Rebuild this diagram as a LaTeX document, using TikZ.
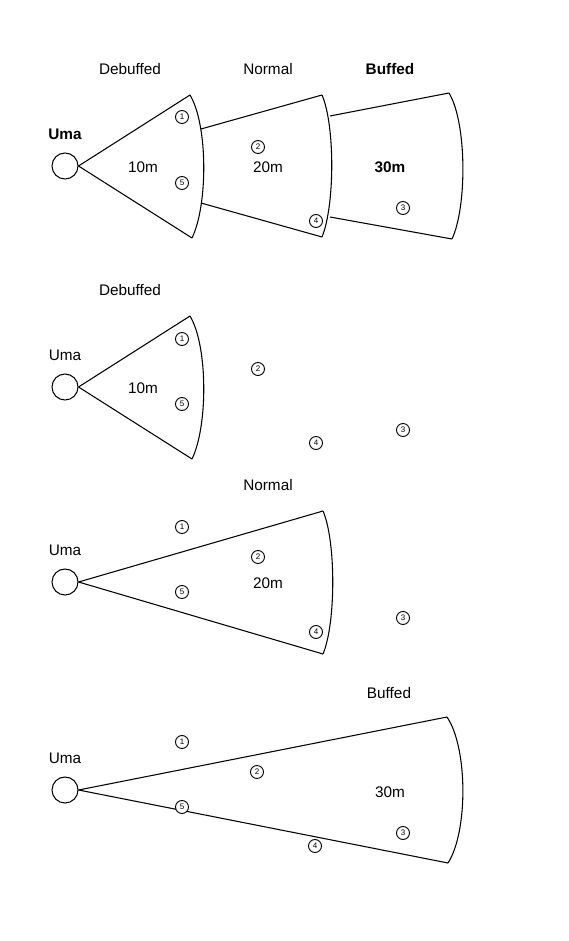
\documentclass[tikz,border=0pt]{standalone}
\usepackage{fontspec}
\setmainfont{Liberation Sans}
\begin{document}
\begin{tikzpicture}[x=0.75pt,y=-0.75pt,
  uma/.style={draw,circle,minimum size=19.5pt,inner sep=0pt,line width=0.8pt},
  mark num/.style={draw,circle,minimum size=9.75pt,inner sep=0pt,line width=0.7pt,font=\fontsize{6}{7}\selectfont},
  lbl/.style={font=\fontsize{11.5}{13}\selectfont},
  blbl/.style={font=\fontsize{11.5}{13}\selectfont\bfseries},
  edge/.style={line width=0.8pt}]
\useasboundingbox (0,0) rectangle (568,941);
% ---------- Panel 1 ----------
\node[uma] (u1) at (65,166) {};
\node[blbl] (un1) at (65,134) {Uma};
\node[lbl] (t1a) at (130,69) {Debuffed};
\node[lbl] (t1b) at (268,69) {Normal};
\node[blbl] (t1c) at (390,69) {Buffed};
\coordinate (d1t) at (190,95);
\coordinate (d1b) at (192,238);
\coordinate (n1s) at (201,129);
\coordinate (n1e) at (201,203);
\coordinate (n1t) at (322,95);
\coordinate (n1b) at (322,237);
\coordinate (b1s) at (330,116);
\coordinate (b1e) at (330,217);
\coordinate (b1t) at (449,93);
\coordinate (b1b) at (452,239);
\draw[edge] (u1.east) -- (d1t);
\draw[edge] (u1.east) -- (d1b);
\draw[edge] (d1t) .. controls (208,125) and (208,205) .. (d1b);
\draw[edge] (n1s) -- (n1t);
\draw[edge] (n1e) -- (n1b);
\draw[edge] (n1t) .. controls (335,125) and (335,205) .. (n1b);
\draw[edge] (b1s) -- (b1t);
\draw[edge] (b1e) -- (b1b);
\draw[edge] (b1t) .. controls (467,123) and (467,207) .. (b1b);
\node[lbl] (r1a) at (143,167) {10m};
\node[lbl] (r1b) at (268,167) {20m};
\node[blbl] (r1c) at (390,167) {30m};
\node[mark num] (m1a) at (182,117) {1};
\node[mark num] (m1e) at (182,183) {5};
\node[mark num] (m1b) at (258,147) {2};
\node[mark num] (m1d) at (316,221) {4};
\node[mark num] (m1c) at (403,208) {3};
% ---------- Panel 2 ----------
\node[uma] (u2) at (65,387) {};
\node[lbl] (un2) at (65,355) {Uma};
\node[lbl] (t2) at (130,290) {Debuffed};
\coordinate (d2t) at (190,316);
\coordinate (d2b) at (192,459);
\draw[edge] (u2.east) -- (d2t);
\draw[edge] (u2.east) -- (d2b);
\draw[edge] (d2t) .. controls (208,346) and (208,426) .. (d2b);
\node[lbl] (r2) at (143,388) {10m};
\node[mark num] (m2a) at (182,339) {1};
\node[mark num] (m2e) at (182,404) {5};
\node[mark num] (m2b) at (258,369) {2};
\node[mark num] (m2d) at (316,443) {4};
\node[mark num] (m2c) at (403,430) {3};
% ---------- Panel 3 ----------
\node[uma] (u3) at (65,582) {};
\node[lbl] (un3) at (65,550) {Uma};
\node[lbl] (t3) at (268,485) {Normal};
\coordinate (n3t) at (323,511);
\coordinate (n3b) at (323,654);
\draw[edge] (u3.east) -- (n3t);
\draw[edge] (u3.east) -- (n3b);
\draw[edge] (n3t) .. controls (336,541) and (336,623) .. (n3b);
\node[lbl] (r3) at (268,583) {20m};
\node[mark num] (m3a) at (182,527) {1};
\node[mark num] (m3b) at (258,557) {2};
\node[mark num] (m3e) at (182,592) {5};
\node[mark num] (m3d) at (316,632) {4};
\node[mark num] (m3c) at (403,618) {3};
% ---------- Panel 4 ----------
\node[uma] (u4) at (65,790) {};
\node[lbl] (un4) at (65,758) {Uma};
\node[lbl] (t4) at (389,693) {Buffed};
\coordinate (b4t) at (447,717);
\coordinate (b4b) at (448,863);
\draw[edge] (u4.east) -- (b4t);
\draw[edge] (u4.east) -- (b4b);
\draw[edge] (b4t) .. controls (468,748) and (468,832) .. (b4b);
\node[lbl] (r4) at (390,792) {30m};
\node[mark num] (m4a) at (182,742) {1};
\node[mark num] (m4b) at (257,772) {2};
\node[mark num,fill=white] (m4e) at (182,807) {5};
\node[mark num,fill=white] (m4d) at (315,846) {4};
\node[mark num] (m4c) at (403,833) {3};
\end{tikzpicture}
\end{document}
